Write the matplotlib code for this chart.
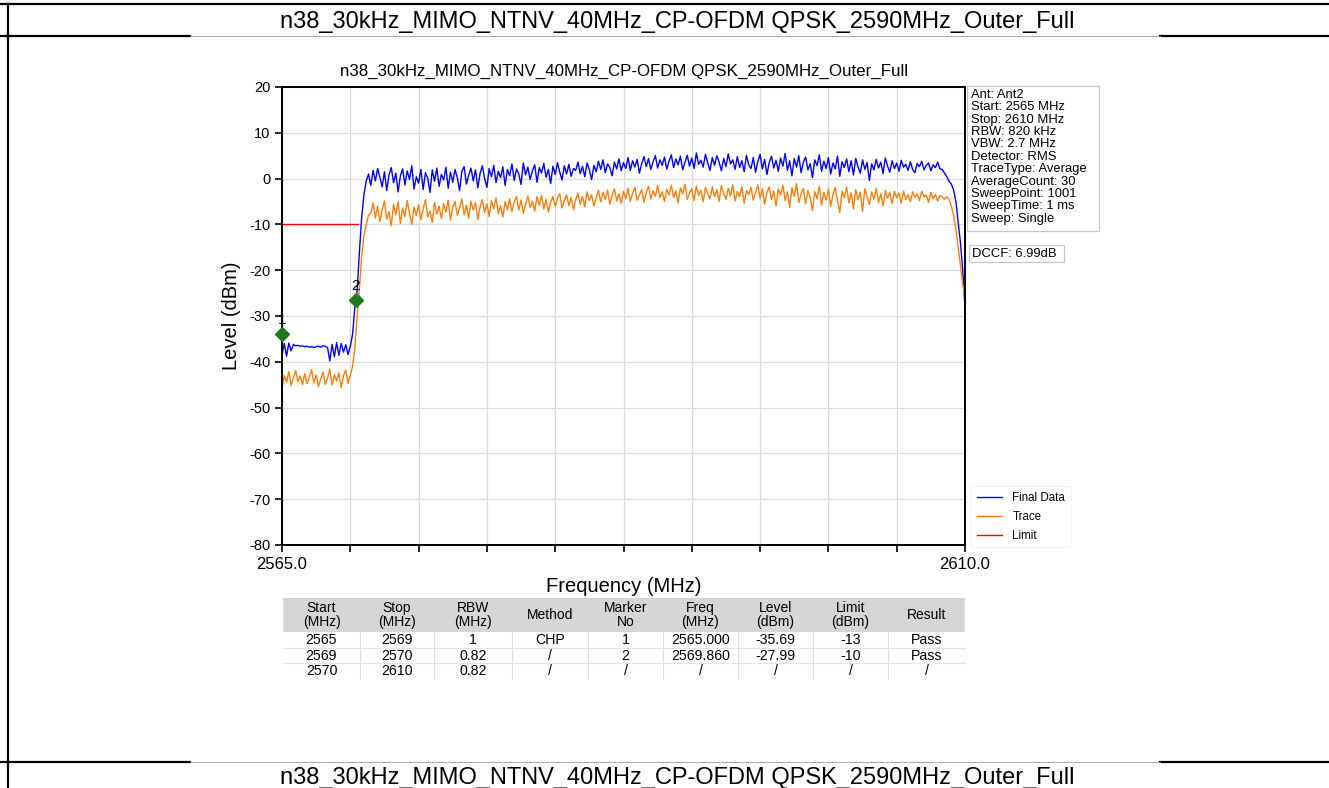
import matplotlib
matplotlib.use('Agg')
import matplotlib.pyplot as plt
import numpy as np
from matplotlib.patches import Rectangle

TITLE = 'n38_30kHz_MIMO_NTNV_40MHz_CP-OFDM QPSK_2590MHz_Outer_Full'

F_START, F_STOP = 2565.0, 2610.0

# Final Data trace, every 0.15 MHz (2565.00 ... 2610.00)
final_data = [
    -38.5, -36.0, -38.8, -35.9, -37.6, -36.2, -36.5, -36.4, -36.6, -36.5,
    -36.7, -36.6, -36.8, -36.7, -36.9, -36.7, -36.6, -36.8, -36.5, -36.6,
    -36.9, -39.8, -36.2, -38.9, -35.8, -38.6, -36.0, -37.9, -36.3, -38.4,
    -36.6, -34.0, -28.0, -24.5, -16.0, -8.5, -3.5, -0.5, 1.0, -1.5,
    1.8, -0.5, 2.2, 0.3, -1.8, 1.5, -2.6, 0.8, 2.4, -0.9,
    1.2, -2.9, 0.6, 2.1, -1.4, 1.7, -0.2, 2.8, -2.3, 0.4,
    -1.0, 2.0, -2.4, 1.3, 0.1, -3.0, 1.9, -0.6, 2.3, -1.7,
    0.9, -0.3, 2.5, -2.1, 1.4, -0.8, 2.0, 0.2, -2.6, 1.6,
    2.6, -1.2, 0.7, 2.3, -0.5, 1.9, -2.0, 1.1, 2.8, 0.0,
    -1.9, 2.2, 0.4, 2.9, -0.9, 1.6, 0.2, 2.6, -1.5, 2.0,
    0.6, 3.2, -0.4, 2.1, 1.0, -1.3, 3.4, 0.8, 2.5, -0.2,
    1.7, 3.0, -0.8, 2.4, 1.2, 3.3, 0.3, 2.0, -1.1, 2.7,
    0.9, 3.5, 1.4, -0.3, 2.8, 1.0, 3.1, 0.5, 2.2, 1.8,
    3.6, 1.1, 2.7, 0.4, 3.4, 1.9, -0.2, 2.9, 1.5, 3.8,
    2.0, 4.1, 1.3, 3.2, 2.4, 0.6, 3.6, 2.1, 4.3, 1.7,
    3.5, 2.2, 4.6, 1.8, 3.9, 2.5, 4.2, 1.2, 3.3, 4.8,
    2.6, 4.4, 2.0, 3.7, 5.0, 2.3, 4.1, 2.9, 4.7, 2.1,
    3.8, 5.2, 2.4, 4.3, 3.0, 4.9, 1.9, 3.6, 5.1, 2.7,
    4.5, 2.2, 5.6, 3.1, 4.0, 2.5, 5.3, 3.4, 1.8, 4.6,
    2.9, 5.0, 3.6, 1.7, 4.4, 2.6, 5.4, 3.2, 4.1, 2.0,
    4.8, 2.4, 3.9, 1.5, 5.1, 3.0, 2.2, 4.6, 1.4, 3.7,
    5.3, 2.1, 4.2, 0.9, 3.5, 4.9, 2.3, 4.0, 1.6, 4.5,
    2.7, 5.5, 1.8, 3.9, 0.6, 4.4, 2.5, 5.0, 1.3, 3.6,
    4.7, 1.9, 3.3, 0.2, 4.1, 2.8, 5.2, 1.6, 3.8, 2.2,
    4.6, 1.0, 3.4, 2.1, 4.9, 0.5, 3.7, 2.4, 4.3, 1.5,
    3.9, 0.8, 4.4, 2.6, 1.2, 4.1, 2.0, 3.5, -0.4, 3.2,
    1.9, 4.2, 2.3, 3.6, 1.1, 4.5, 2.7, 1.4, 3.9, 2.2,
    3.4, 1.6, 4.0, 2.5, 3.1, 1.8, 3.7, 2.0, 1.3, 3.3,
    2.6, 3.8, 1.9, 2.9, 3.4, 1.7, 3.0, 2.4, 3.6, 2.1,
    2.0, 1.2, 0.4, -0.6, -1.2, -2.5, -5.0, -9.5, -14.0, -20.0,
    -28.0,
]

# Trace (orange), same sweep points
trace_data = [
    -45.8, -43.0, -44.5, -42.1, -45.2, -43.6, -41.9, -44.3, -43.1, -45.0,
    -42.6, -44.8, -43.3, -41.7, -44.6, -42.9, -45.4, -43.8, -42.2, -44.9,
    -43.5, -41.6, -45.1, -42.8, -44.2, -42.4, -45.6, -43.0, -41.8, -44.7,
    -42.9, -41.0, -37.0, -30.0, -24.0, -17.0, -12.5, -10.0, -8.0, -7.5,
    -5.3, -8.6, -6.0, -9.4, -6.8, -4.9, -8.9, -7.2, -10.3, -5.6,
    -7.9, -5.1, -9.8, -6.4, -8.3, -4.8, -7.6, -10.0, -6.2, -8.1,
    -5.7, -9.0, -6.6, -4.6, -8.4, -7.1, -9.6, -5.2, -7.8, -6.0,
    -8.7, -5.4, -7.3, -4.7, -9.1, -6.2, -5.0, -8.0, -6.5, -4.4,
    -7.9, -5.8, -8.6, -4.9, -6.9, -5.3, -9.0, -6.1, -4.6, -7.4,
    -5.5, -8.3, -4.8, -6.6, -4.2, -7.7, -5.9, -8.4, -5.0, -6.8,
    -4.4, -7.2, -5.1, -3.9, -6.9, -4.7, -7.6, -5.6, -3.8, -6.3,
    -4.9, -7.1, -4.0, -5.8, -3.6, -6.6, -4.5, -7.3, -5.2, -3.9,
    -6.1, -4.3, -3.3, -6.4, -4.8, -3.6, -5.9, -4.1, -6.8, -4.6,
    -3.2, -5.7, -3.9, -6.2, -2.9, -4.8, -3.5, -6.0, -4.2, -2.6,
    -5.1, -3.0, -4.6, -2.5, -5.6, -3.7, -2.2, -4.9, -3.3, -5.4,
    -2.8, -4.4, -2.1, -5.0, -3.2, -1.9, -4.7, -3.6, -2.4, -5.2,
    -3.0, -1.7, -4.5, -2.6, -3.9, -1.5, -4.2, -2.9, -5.0, -2.3,
    -3.6, -1.4, -4.1, -2.7, -5.3, -2.0, -3.4, -1.2, -4.6, -3.1,
    -2.2, -4.8, -1.6, -3.7, -2.5, -5.1, -1.9, -3.3, -4.4, -1.8,
    -3.9, -2.4, -5.0, -1.5, -3.2, -4.5, -2.1, -3.8, -1.3, -4.9,
    -2.8, -4.0, -1.7, -5.4, -2.6, -3.5, -1.9, -4.7, -3.0, -1.4,
    -4.3, -2.2, -5.6, -3.1, -1.8, -4.6, -2.7, -6.0, -2.3, -3.6,
    -1.5, -4.8, -2.9, -6.3, -2.0, -3.9, -1.1, -5.2, -3.4, -2.1,
    -5.5, -2.6, -4.1, -7.0, -2.8, -4.4, -1.6, -5.8, -3.0, -4.7,
    -2.3, -6.1, -3.5, -1.9, -4.9, -7.4, -2.7, -4.2, -1.8, -5.3,
    -3.1, -6.6, -2.4, -4.6, -3.0, -7.2, -2.2, -4.0, -5.7, -2.9,
    -4.5, -2.1, -5.2, -3.3, -6.0, -2.6, -4.3, -3.0, -5.5, -2.8,
    -4.2, -3.1, -5.4, -2.7, -4.6, -3.5, -5.0, -2.9, -4.1, -3.3,
    -4.8, -2.8, -4.0, -3.6, -5.2, -3.0, -4.4, -3.4, -4.9, -3.7,
    -4.0, -4.5, -4.0, -4.5, -6.0, -8.0, -11.0, -15.0, -19.0, -23.0,
    -26.0,
]

limit_freq = [2565.0, 2570.0]
limit_level = [-10.0, -10.0]

marker_no = ['1', '2']
marker_freq = [2565.000, 2569.860]
marker_level = [-34.0, -26.5]

info_lines = [
    'Ant: Ant2', 'Start: 2565 MHz', 'Stop: 2610 MHz', 'RBW: 820 kHz',
    'VBW: 2.7 MHz', 'Detector: RMS', 'TraceType: Average', 'AverageCount: 30',
    'SweepPoint: 1001', 'SweepTime: 1 ms', 'Sweep: Single',
]
dccf_text = 'DCCF: 6.99dB'

table_header = ['Start\n(MHz)', 'Stop\n(MHz)', 'RBW\n(MHz)', 'Method', 'Marker\nNo',
                'Freq\n(MHz)', 'Level\n(dBm)', 'Limit\n(dBm)', 'Result']
table_rows = [
    ['2565', '2569', '1', 'CHP', '1', '2565.000', '-35.69', '-13', 'Pass'],
    ['2569', '2570', '0.82', '/', '2', '2569.860', '-27.99', '-10', 'Pass'],
    ['2570', '2610', '0.82', '/', '/', '/', '/', '/', '/'],
]


def main():
    plt.rcParams['font.family'] = ['Liberation Sans', 'DejaVu Sans']
    plt.rcParams['axes.unicode_minus'] = False
    W, H = 1329, 788
    fig = plt.figure(figsize=(W / 100, H / 100), dpi=100)

    # page overlay in pixel coordinates (document table borders + captions)
    ov = fig.add_axes([0, 0, 1, 1], zorder=0)
    ov.set_xlim(0, W)
    ov.set_ylim(H, 0)
    ov.axis('off')
    ov.plot([0, W], [4, 4], color='black', lw=1.6)
    ov.plot([8, 8], [4, H], color='black', lw=1.6)
    for y in (36, 762):
        ov.plot([0, 190], [y, y], color='black', lw=1.6)
        ov.plot([1160, W], [y, y], color='black', lw=1.6)
        ov.plot([190, 1160], [y, y], color='#999999', lw=0.6)
    ov.text(677, 22, TITLE, ha='center', va='center', fontsize=17)
    ov.text(677, 778, TITLE, ha='center', va='center', fontsize=17)

    # chart
    x0, x1, y0, y1 = 282, 965, 87, 545
    ax = fig.add_axes([x0 / W, 1 - y1 / H, (x1 - x0) / W, (y1 - y0) / H], zorder=2)
    freq = np.linspace(F_START, F_STOP, len(final_data))
    ax.plot(freq, final_data, color='#0000ff', lw=1.0, label='Final Data')
    ax.plot(freq, trace_data, color='#ff7f0e', lw=1.0, label='Trace')
    ax.plot(limit_freq, limit_level, color='#ff0000', lw=1.0, label='Limit')
    ax.plot(marker_freq, marker_level, linestyle='none', marker='D', ms=7,
            color='#1e7b1e', clip_on=False, zorder=5)
    for no, f, lv in zip(marker_no, marker_freq, marker_level):
        ax.annotate(no, (f, lv), xytext=(0, 5), textcoords='offset points',
                    ha='center', va='bottom', fontsize=11, zorder=6)

    ax.set_xlim(F_START, F_STOP)
    ax.set_ylim(-80, 20)
    xt = np.linspace(F_START, F_STOP, 11)
    ax.set_xticks(xt)
    ax.set_xticklabels(['%.1f' % v if i in (0, 10) else '' for i, v in enumerate(xt)], fontsize=12)
    ax.set_yticks(np.arange(-80, 21, 10))
    ax.tick_params(axis='y', labelsize=10.5)
    ax.tick_params(length=5, width=1.2)
    ax.grid(True, color='#dcdcdc', lw=0.9)
    for s in ax.spines.values():
        s.set_linewidth(1.4)
    ax.set_xlabel('Frequency (MHz)', fontsize=14.5, labelpad=4)
    ax.set_ylabel('Level (dBm)', fontsize=14.5, labelpad=6)
    ax.set_title(TITLE, fontsize=12.2, pad=8)

    leg = ax.legend(loc='lower left', bbox_to_anchor=(1.0, -0.018), fontsize=8.3,
                    handlelength=2.2, handletextpad=0.9, labelspacing=0.6,
                    borderpad=0.5, fancybox=False, edgecolor='#f0f0f0')
    leg.get_frame().set_linewidth(0.8)

    # info boxes to the right of the plot
    ov.add_patch(Rectangle((967, 86), 132, 145, fc='white', ec='#c8c8c8', lw=0.9, zorder=3))
    ov.text(971, 89, '\n'.join(info_lines), ha='left', va='top', fontsize=9.4,
            linespacing=1.04, zorder=4)
    ov.add_patch(Rectangle((969, 245), 95, 17, fc='white', ec='#c8c8c8', lw=0.9, zorder=3))
    ov.text(972, 253.5, dccf_text, ha='left', va='center', fontsize=9.4, zorder=4)

    # result table under the chart
    cols = [283, 360, 434, 512, 588, 663, 738, 813, 888, 965]
    hdr_top, hdr_bot, row_h = 598, 632, 15.7
    ov.add_patch(Rectangle((cols[0], hdr_top), cols[-1] - cols[0], hdr_bot - hdr_top,
                           fc='#d6d6d6', ec='none', zorder=1))
    for c in range(len(table_header)):
        cx = (cols[c] + cols[c + 1]) / 2
        ov.text(cx, (hdr_top + hdr_bot) / 2, table_header[c], ha='center', va='center',
                fontsize=10, linespacing=0.95, zorder=2)
        for r, row in enumerate(table_rows):
            ov.text(cx, hdr_bot + row_h * (r + 0.5), row[c], ha='center', va='center',
                    fontsize=10.2, zorder=2)
    tab_bot = hdr_bot + row_h * len(table_rows)
    for xc in cols[1:-1]:
        ov.plot([xc, xc], [hdr_bot, tab_bot], color='#dedede', lw=0.8, zorder=1)
    for r in range(1, len(table_rows)):
        yy = hdr_bot + row_h * r
        ov.plot([cols[0], cols[-1]], [yy, yy], color='#e4e4e4', lw=0.8, zorder=1)

    fig.savefig('out.png', dpi=100)


if __name__ == '__main__':
    main()
